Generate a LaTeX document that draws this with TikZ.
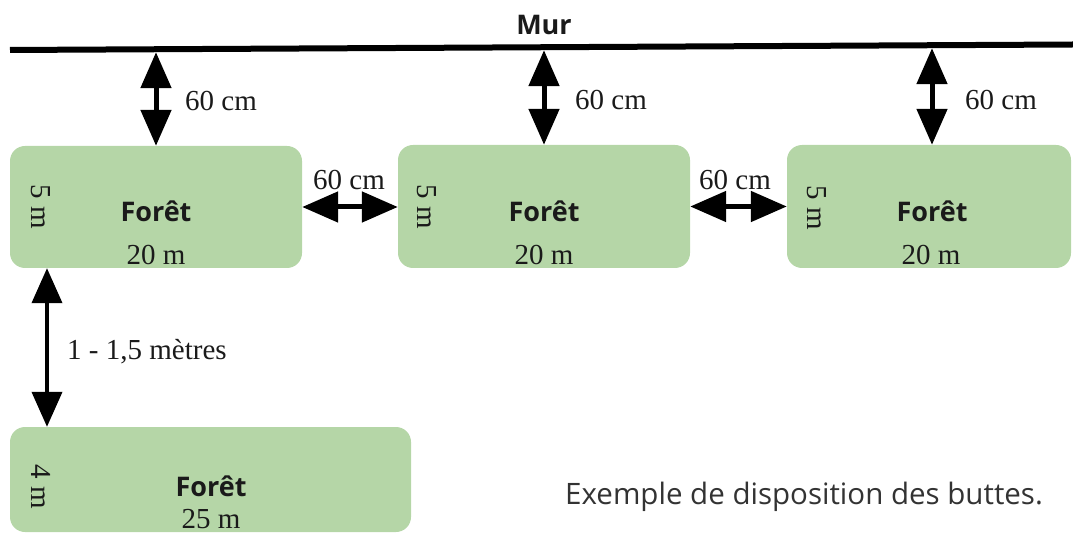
\documentclass[tikz,border=0pt]{standalone}
\usepackage{fontspec}
\setmainfont{Liberation Serif}
\newfontfamily\boldsans{Open Sans}[UprightFont=* Bold]
\newfontfamily\captionsans{Open Sans}
\usetikzlibrary{arrows.meta}
\definecolor{bedgreen}{HTML}{B5D6A7}
\definecolor{inkdark}{HTML}{1A1A1A}
\tikzset{
  bed/.style={fill=bedgreen, draw=none, rounded corners=15pt, inner sep=0pt},
  bedname/.style={font=\boldsans\fontsize{27}{30}\selectfont, text=inkdark, inner sep=0pt},
  measure/.style={font=\fontsize{29}{31}\selectfont, text=inkdark, inner sep=0pt},
  sidemeasure/.style={measure, rotate=-90},
  dimarrow/.style={line width=5pt, {Triangle[length=36pt,width=30pt]}-{Triangle[length=36pt,width=30pt]}},
  gaparrow/.style={line width=4pt, {Triangle[length=35pt,width=30pt]}-{Triangle[length=35pt,width=30pt]}},
  wall/.style={line width=6pt}
}
\begin{document}
\begin{tikzpicture}[x=1pt, y=-1pt]
  \useasboundingbox (0,0) rectangle (1073,534);

  % the wall
  \coordinate (wl) at (10,50);
  \coordinate (wr) at (1073,44.5);
  \draw[wall] (wl) -- (wr);
  \node[bedname] (mur) at (544,25) {Mur};

  % raised beds
  \node[bed, minimum width=292pt, minimum height=122pt] (b1) at (156,207) {};
  \node[bed, minimum width=292pt, minimum height=123pt] (b2) at (544,206.5) {};
  \node[bed, minimum width=284pt, minimum height=123pt] (b3) at (929,206.5) {};
  \node[bed, minimum width=401pt, minimum height=105pt] (b4) at (210.5,479.5) {};

  % bed labels
  \node[bedname] (n1) at (156,211) {Forêt};
  \node[bedname] (n2) at (544,211) {Forêt};
  \node[bedname] (n3) at (932,211) {Forêt};
  \node[bedname] (n4) at (211,486) {Forêt};
  \node[measure] (l1) at (156,255) {20 m};
  \node[measure] (l2) at (544,255) {20 m};
  \node[measure] (l3) at (931,255) {20 m};
  \node[measure] (l4) at (211,519) {25 m};
  \node[sidemeasure] (s1) at (41,207) {5 m};
  \node[sidemeasure] (s2) at (427,207) {5 m};
  \node[sidemeasure] (s3) at (817,208) {5 m};
  \node[sidemeasure] (s4) at (41,487) {4 m};

  % distance from the wall
  \coordinate (w1) at (156,52.2);
  \coordinate (w2) at (544,50.2);
  \coordinate (w3) at (932,48.2);
  \draw[dimarrow] (w1) -- (b1.north);
  \draw[dimarrow] (w2) -- (b2.north);
  \draw[dimarrow] (w3) -- (w3 |- b3.north);
  \node[measure, anchor=west] (d1) at (185,101) {60 cm};
  \node[measure, anchor=west] (d2) at (575,100) {60 cm};
  \node[measure, anchor=west] (d3) at (965,100) {60 cm};

  % distance between beds of a row
  \draw[dimarrow] (b1.east) -- (b1.east -| b2.west);
  \draw[dimarrow] (b2.east) -- (b2.east -| b3.west);
  \node[measure] (g1) at (349,180) {60 cm};
  \node[measure] (g2) at (735,180) {60 cm};

  % distance between rows
  \coordinate (lx) at (47,350);
  \draw[gaparrow] (lx |- b1.south) -- (lx |- b4.north);
  \node[measure, anchor=west] (r1) at (67,352) {1 - 1,5 mètres};

  % caption
  \node[font=\captionsans\fontsize{29.5}{31}\selectfont, text=black!80, anchor=west, inner sep=0pt] (cap) at (565,497) {Exemple de disposition des buttes.};
\end{tikzpicture}
\end{document}
